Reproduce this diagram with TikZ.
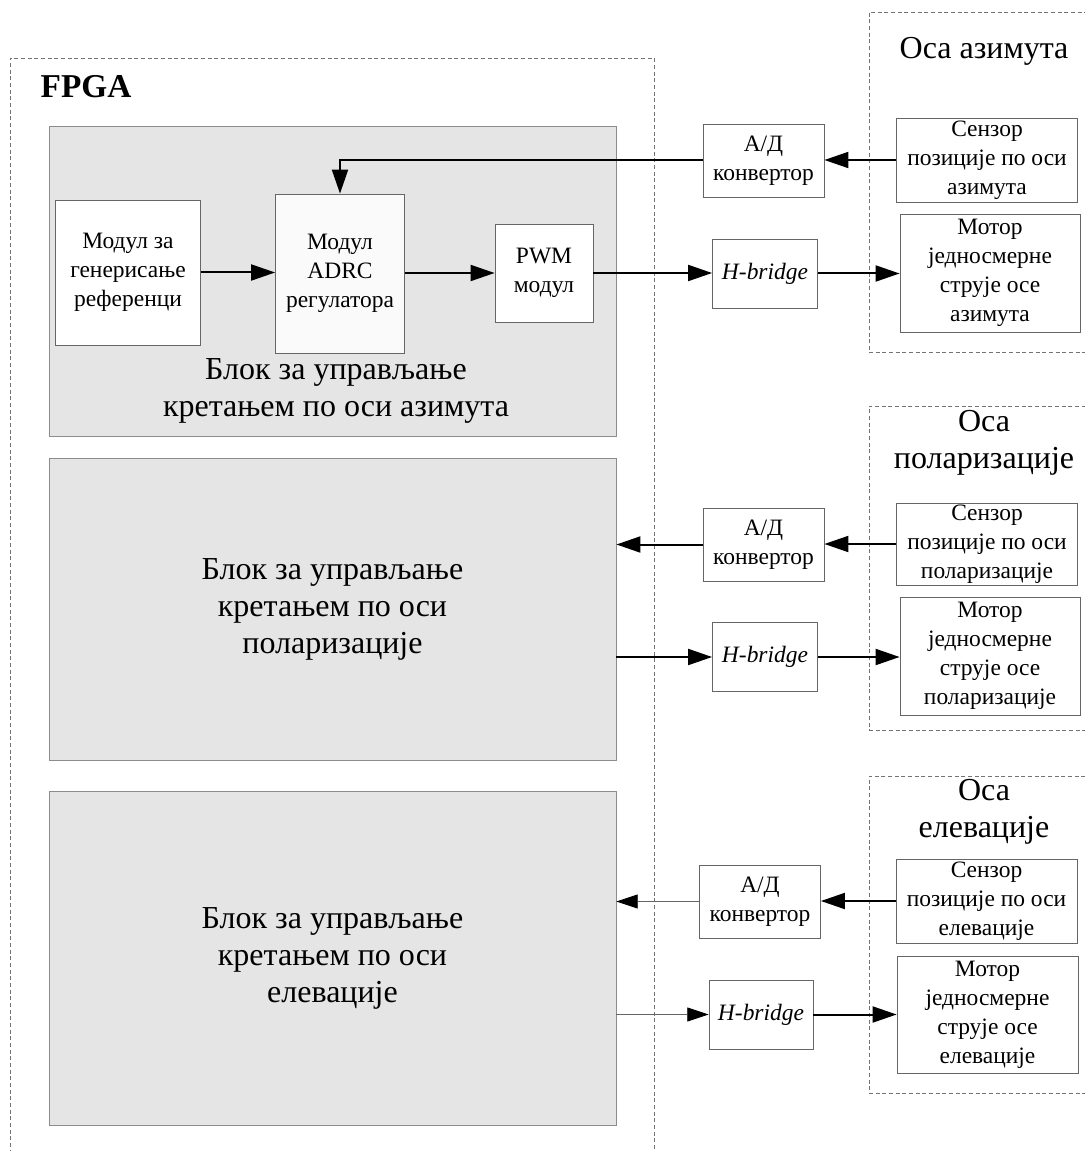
\documentclass[tikz,border=0pt]{standalone}
\usepackage{fontspec}
\setmainfont{Liberation Serif}
\usetikzlibrary{arrows.meta, positioning, calc}

\begin{document}
\begin{tikzpicture}[
    x=0.75pt, y=-0.75pt,
    module/.style={
        draw=black!60, fill=white, line width=0.6pt, inner sep=0pt,
        align=center, font=\fontsize{17.6}{21.75}\selectfont
    },
    block/.style={
        draw=black!45, fill=black!10, line width=0.6pt, inner sep=0pt,
        align=center, minimum width=425.25pt,
        font=\fontsize{24}{27.75}\selectfont
    },
    frame/.style={draw=black!55, dash pattern=on 3pt off 2pt, line width=0.5pt, inner sep=0pt},
    head/.style={align=center, font=\fontsize{24}{27.75}\selectfont},
    adc/.style={module, minimum width=90.75pt, minimum height=54.75pt},
    hbridge/.style={module, minimum width=78.75pt, minimum height=51.75pt, font=\fontsize{17.6}{21.75}\selectfont\itshape},
    sensor/.style={module, minimum width=135.75pt, minimum height=63pt},
    motor/.style={module, minimum width=135pt, minimum height=88.5pt},
    edge/.style={-{Triangle[length=18pt,width=12pt]}, line width=1.5pt},
    thinedge/.style={-{Triangle[length=16pt,width=10.5pt,color=black]}, line width=0.6pt, draw=black!60},
]
\useasboundingbox (0,0) rectangle (1084,1151);

% Frames
\node[frame, minimum width=483pt, minimum height=830.25pt] (fpga) at (332,611.5) {};
\node[font=\fontsize{25}{30}\selectfont\bfseries, anchor=west] (fpgalabel) at (36,87) {FPGA};

\node[frame, minimum width=167.25pt, minimum height=255pt] (azaxis) at (980.5,182) {};
\node[head] (azhead) at (984,51) {Оса азимута};

\node[frame, minimum width=167.25pt, minimum height=243pt] (polaxis) at (980.5,568) {};
\node[head] (polhead) at (984,443) {Оса\\поларизације};

\node[frame, minimum width=167.25pt, minimum height=237.75pt] (elaxis) at (980.5,934.5) {};
\node[head] (elhead) at (984,812) {Оса\\елевације};

% Azimuth
\node[block, minimum height=232.5pt] (azblock) at (332.5,281) {};
\node[block, draw=none, fill=none] (azlabel) at (336,391) {Блок за управљање\\кретањем по оси азимута};
\node[module, minimum width=108.75pt, minimum height=108.75pt] (refmod) at (128,272.5) {Модул за\\генерисање\\референци};
\node[module, fill=black!2, minimum width=96.75pt, minimum height=119.25pt] (adrc) at (340,273.5) {Модул\\ADRC\\регулатора};
\node[module, minimum width=73.5pt, minimum height=73.5pt] (pwm) at (544,273) {PWM\\модул};
\node[adc] (adaz) at (763.5,160.5) {А/Д\\конвертор};
\node[hbridge] (hbaz) at (765,273.5) {H-bridge};
\node[sensor] (senaz) at (987,160) {Сензор\\позиције по оси\\азимута};
\node[motor] (motaz) at (990,273) {Мотор\\једносмерне\\струје осе\\азимута};

% Polarization
\node[block, minimum height=226.5pt] (polblock) at (332.5,609) {Блок за управљање\\кретањем по оси\\поларизације};
\node[adc] (adpol) at (763.5,544.5) {А/Д\\конвертор};
\node[hbridge] (hbpol) at (765,657) {H-bridge};
\node[sensor, minimum height=61.5pt] (senpol) at (987,544) {Сензор\\позиције по оси\\поларизације};
\node[motor] (motpol) at (990,656) {Мотор\\једносмерне\\струје осе\\поларизације};

% Elevation
\node[block, minimum height=250.5pt] (elblock) at (332.5,958) {Блок за управљање\\кретањем по оси\\елевације};
\node[adc] (adel) at (760,901.5) {А/Д\\конвертор};
\node[hbridge, minimum width=78pt] (hbel) at (761,1014.5) {H-bridge};
\node[sensor] (senel) at (986.5,901) {Сензор\\позиције по оси\\елевације};
\node[motor, minimum width=135.75pt, minimum height=87.75pt] (motel) at (987.5,1014.5) {Мотор\\једносмерне\\струје осе\\елевације};

% Azimuth connections
\draw[edge] (refmod.east) -- (refmod.east -| adrc.west);
\draw[edge] (adrc.east |- pwm.west) -- (pwm.west);
\draw[edge] (pwm.east) -- (pwm.east -| hbaz.west);
\draw[edge] (hbaz.east) -- (hbaz.east -| motaz.west);
\draw[edge] (senaz.west) -- (senaz.west -| adaz.east);
\draw[edge] (adaz.west) -| (adrc.north);

% Polarization connections
\draw[edge] (adpol.west) -- (adpol.west -| polblock.east);
\draw[edge] (hbpol.west -| polblock.east) -- (hbpol.west);
\draw[edge] (hbpol.east) -- (hbpol.east -| motpol.west);
\draw[edge] (senpol.west) -- (senpol.west -| adpol.east);

% Elevation connections
\draw[thinedge] (adel.west) -- (adel.west -| elblock.east);
\draw[thinedge] (hbel.west -| elblock.east) -- (hbel.west);
\draw[edge] (hbel.east) -- (hbel.east -| motel.west);
\draw[edge] (senel.west) -- (senel.west -| adel.east);

\end{tikzpicture}
\end{document}
